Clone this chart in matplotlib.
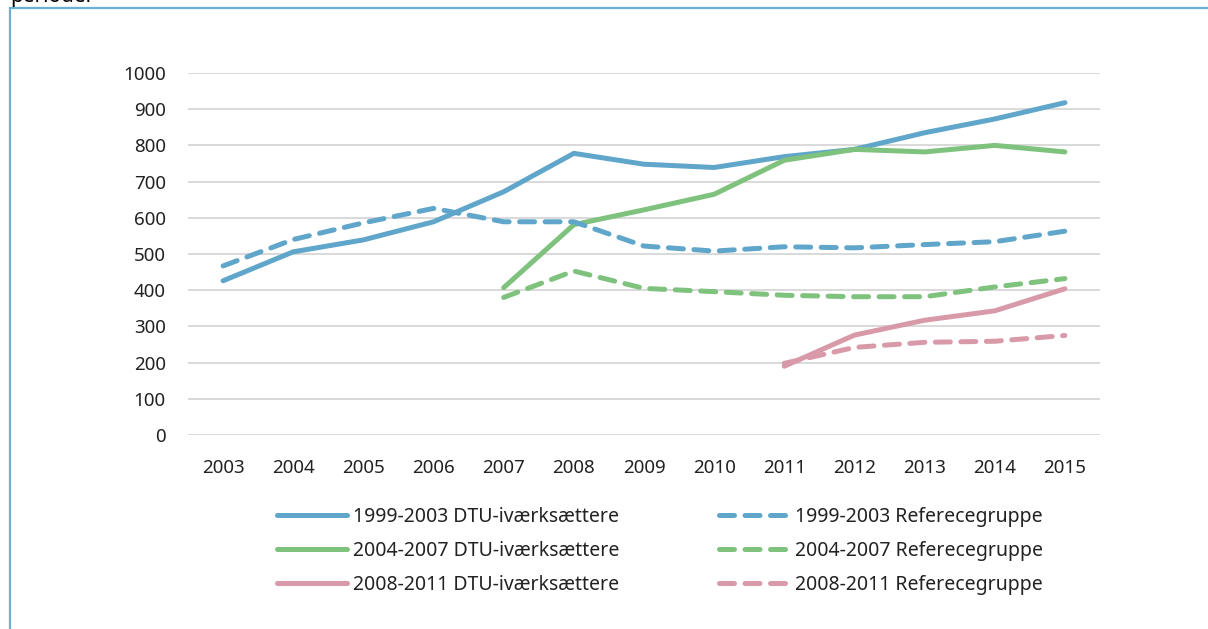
import numpy as np
import matplotlib
matplotlib.use("Agg")
import matplotlib.pyplot as plt
from matplotlib.lines import Line2D
from matplotlib.patches import Rectangle

plt.rcParams['font.family'] = ['Noto Sans', 'DejaVu Sans']

years = ['2003', '2004', '2005', '2006', '2007', '2008', '2009',
         '2010', '2011', '2012', '2013', '2014', '2015']

# DTU-iværksættere per cohort (None = no data that year)
dtu_9903 = [426, 506, 539, 589, 672, 778, 748, 739, 769, 789, 835, 873, 918]
dtu_0407 = [None, None, None, None, 407, 581, 622, 665, 759, 789, 782, 800, 782]
dtu_0811 = [None, None, None, None, None, None, None, None, 190, 276, 317, 343, 404]

# Referencegrupper
ref_9903 = [467, 540, 586, 626, 589, 589, 522, 508, 520, 517, 526, 534, 563]
ref_0407 = [None, None, None, None, 380, 453, 405, 396, 386, 382, 382, 409, 432]
ref_0811 = [None, None, None, None, None, None, None, None, 198, 242, 256, 259, 275]

labels_dtu = ['1999-2003 DTU-iværksættere', '2004-2007 DTU-iværksættere',
              '2008-2011 DTU-iværksættere']
labels_ref = ['1999-2003 Referecegruppe', '2004-2007 Referecegruppe',
              '2008-2011 Referecegruppe']

colors = ['#5fa6ca', '#7ec27d', '#d89aa9']


def to_arr(vals):
    return np.array([np.nan if v is None else v for v in vals], dtype=float)


fig = plt.figure(figsize=(12.08, 6.29), dpi=100)
ax = fig.add_axes([188 / 1208, 1 - 435 / 629, (1100 - 188) / 1208, (435 - 73) / 629])

x = np.arange(len(years))
lw = 3.6
dash = (3.0, 2.1)

for vals, c in zip([dtu_9903, dtu_0407, dtu_0811], colors):
    ax.plot(x, to_arr(vals), color=c, lw=lw, solid_capstyle='round',
            solid_joinstyle='round', zorder=3)
for vals, c in zip([ref_9903, ref_0407, ref_0811], colors):
    ax.plot(x, to_arr(vals), color=c, lw=lw, linestyle=(0, dash),
            dash_capstyle='round', dash_joinstyle='round', zorder=3)

ax.set_xlim(-0.5, len(years) - 0.5)
ax.set_ylim(0, 1000)
ax.set_yticks(np.arange(0, 1001, 100))
ax.set_xticks(x)
ax.set_xticklabels(years)
ax.grid(axis='y', color='#d9d9d9', lw=1.4)
ax.set_axisbelow(True)
for s in ax.spines.values():
    s.set_visible(False)
ax.tick_params(length=0, labelsize=13.5, colors='#222222')
ax.tick_params(axis='y', pad=16)
ax.tick_params(axis='x', pad=17)

# legend: solid lines left column, dashed right column
handles = [Line2D([], [], color=c, lw=lw, solid_capstyle='round') for c in colors]
handles += [Line2D([], [], color=c, lw=lw, linestyle=(0, dash), dash_capstyle='round')
            for c in colors]
leg = fig.legend(handles, labels_dtu + labels_ref, ncol=2, frameon=False,
                 loc='center', bbox_to_anchor=(660 / 1208, 1 - 551 / 629),
                 fontsize=14, handlelength=3.6, handletextpad=0.3,
                 columnspacing=5.1, labelspacing=0.71)
for t in leg.get_texts():
    t.set_color('#222222')

# frame around the figure and the cut-off heading above it
fig.patches.append(Rectangle((10 / 1208, -0.1), 1.1, 1 - 8 / 629 + 0.1,
                             transform=fig.transFigure, fill=False,
                             edgecolor='#6aafd6', lw=1.6))
fig.text(10 / 1208, 1 + 14 / 629, 'perioder', fontsize=15, fontweight='bold',
         va='top', ha='left')

fig.savefig('out.png', dpi=100)
